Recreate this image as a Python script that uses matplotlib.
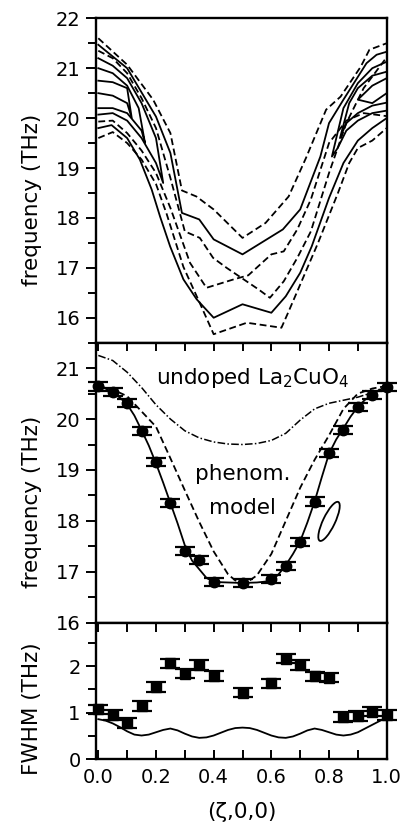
import matplotlib
matplotlib.use("Agg")
import matplotlib.pyplot as plt
import numpy as np
from matplotlib.patches import Ellipse
from matplotlib import transforms

plt.rcParams['font.family'] = ['DejaVu Sans']
plt.rcParams['mathtext.default'] = 'regular'

# ---------------- top panel: contour lines (zeta, frequency) ----------------
top_lines = [
    # (style, zeta list, freq list)
    ('--', [0, .10, .19, .25, .29, .34, .40, .50, .58, .66, .72, .79, .84, .91, .94, 1.0],
           [21.6, 21.07, 20.37, 19.7, 18.55, 18.43, 18.17, 17.6, 17.9, 18.43, 19.2, 20.17, 20.43, 21.03, 21.37, 21.5]),
    ('-',  [0, .10, .20, .25, .29, .35, .40, .50, .64, .70, .77, .80, .85, .93, .965, 1.0],
           [21.47, 21.0, 20.03, 19.3, 18.1, 17.97, 17.57, 17.27, 17.77, 18.17, 19.23, 19.9, 20.37, 21.1, 21.27, 21.33]),
    ('--', [0, .05, .10, .15, .20, .237, .295, .353, .40, .515, .635, .658, .693, .762, .831, .87, .90, .95, 1.0],
           [19.6, 19.72, 19.5, 19.17, 18.68, 18.08, 17.02, 16.28, 15.67, 15.9, 15.8, 16.1, 16.57, 17.5, 18.5, 19.1, 19.4, 19.55, 19.8]),
    ('-',  [0, .046, .10, .144, .185, .214, .249, .295, .341, .40, .50, .60, .65, .70, .74, .80, .85, .90, .95, 1.0],
           [19.8, 19.86, 19.6, 19.17, 18.57, 18.03, 17.43, 16.77, 16.37, 16.0, 16.27, 16.1, 16.43, 16.9, 17.43, 18.4, 19.1, 19.55, 19.8, 20.0]),
    ('--', [0, .05, .10, .15, .20, .25, .30, .352, .398, .445, .514, .555, .595, .643, .69, .737, .80, .86, .92, 1.0],
           [21.35, 21.2, 20.9, 20.4, 19.8, 18.8, 17.73, 17.6, 17.2, 17.0, 16.73, 16.57, 16.4, 16.73, 17.2, 17.73, 18.9, 19.9, 20.6, 21.22]),
    ('--', [0, .05, .10, .15, .20, .25, .318, .375, .47, .52, .60, .643, .69, .737, .80, .86, .92, 1.0],
           [19.93, 19.95, 19.7, 19.35, 18.9, 18.2, 17.1, 16.6, 16.77, 16.85, 17.27, 17.33, 17.77, 18.37, 19.5, 19.95, 20.1, 20.04]),
    # left inner loops
    ('-',  [0, .05, .10, .15, .20, .225, .20, .15, .10, .05, 0],
           [21.2, 21.05, 20.8, 20.3, 19.6, 18.7, 19.1, 19.6, 19.95, 20.1, 20.07]),
    ('-',  [0, .05, .10, .14, .162, .15, .10, .05, 0],
           [21.0, 20.9, 20.65, 20.2, 19.5, 19.75, 20.1, 20.2, 20.2]),
    ('-',  [0, .05, .10, .116, .10, .05, 0],
           [20.75, 20.72, 20.6, 20.0, 20.3, 20.45, 20.5]),
    # right inner loops
    ('-',  [1.0, .95, .90, .85, .81, .83, .86, .90, .95, 1.0],
           [21.13, 21.0, 20.7, 20.2, 19.23, 19.4, 19.75, 19.95, 20.1, 20.15]),
    ('-',  [1.0, .95, .90, .87, .838, .86, .90, .95, 1.0],
           [20.93, 20.85, 20.6, 20.3, 19.6, 19.9, 20.1, 20.25, 20.31]),
    ('-',  [1.0, .95, .90, .95, 1.0],
           [20.8, 20.65, 20.37, 20.3, 20.5]),
]

# ---------------- middle panel ----------------
zeta_pts = [0.0, 0.05, 0.10, 0.15, 0.20, 0.25, 0.30, 0.35, 0.40, 0.50,
            0.60, 0.65, 0.70, 0.75, 0.80, 0.85, 0.90, 0.95, 1.0]
freq_pts = [20.64, 20.53, 20.31, 19.77, 19.15, 18.35, 17.40, 17.23, 16.80, 16.78,
            16.86, 17.11, 17.58, 18.38, 19.33, 19.79, 20.23, 20.48, 20.63]
freq_err = [0.08] * len(zeta_pts)

fit_zeta = [0, .025, .05, .075, .1, .125, .15, .175, .2, .225, .25, .275, .3, .325, .35, .375, .4,
            .45, .5, .55, .6, .625, .65, .675, .7, .725, .75, .775, .8, .825, .85, .875, .9, .925, .95, .975, 1.0]
fit_freq = [20.65, 20.60, 20.52, 20.42, 20.29, 20.07, 19.78, 19.48, 19.13, 18.75, 18.35, 17.95, 17.52, 17.22,
            17.05, 16.88, 16.80, 16.79, 16.78, 16.79, 16.82, 16.95, 17.13, 17.35, 17.60, 17.97, 18.38, 18.86,
            19.32, 19.60, 19.82, 20.05, 20.24, 20.38, 20.48, 20.57, 20.65]

phen_zeta = [0, .05, .1, .15, .2, .25, .3, .35, .4, .45, .475, .5, .525, .55, .6, .65, .7, .75, .8, .85, .9, .95, 1.0]
phen_freq = [20.65, 20.58, 20.45, 20.15, 19.85, 19.23, 18.60, 17.98, 17.40, 16.95, 16.83, 16.79, 16.83,
             16.93, 17.35, 18.00, 18.65, 19.20, 19.68, 20.20, 20.50, 20.60, 20.65]

undoped_zeta = [0, .05, .1, .15, .2, .25, .3, .35, .4, .45, .5, .55, .6, .65, .7, .75, .8, .85, .9, .95, 1.0]
undoped_freq = [21.25, 21.15, 20.92, 20.62, 20.28, 20.00, 19.77, 19.63, 19.55, 19.51, 19.50, 19.52, 19.58,
                19.72, 19.98, 20.20, 20.31, 20.37, 20.43, 20.52, 20.65]

# ---------------- bottom panel ----------------
fwhm_zeta = [0.0, 0.05, 0.10, 0.15, 0.20, 0.25, 0.30, 0.35, 0.40, 0.50,
             0.60, 0.65, 0.70, 0.75, 0.80, 0.85, 0.90, 0.95, 1.0]
fwhm_vals = [1.07, 0.95, 0.78, 1.14, 1.55, 2.06, 1.84, 2.02, 1.79, 1.43,
             1.63, 2.16, 2.02, 1.78, 1.75, 0.91, 0.93, 1.02, 0.95]
fwhm_err = [0.1] * len(fwhm_zeta)

res_zeta = [0, .025, .05, .075, .1, .125, .15, .175, .2, .225, .25, .275, .3, .325, .35, .375, .4, .425, .45,
            .475, .5, .525, .55, .575, .6, .625, .65, .675, .7, .725, .75, .775, .8, .825, .85, .875, .9,
            .925, .95, .975, 1.0]
res_fwhm = [0.86, 0.83, 0.77, 0.69, 0.60, 0.53, 0.51, 0.53, 0.58, 0.63, 0.66, 0.62, 0.55, 0.49, 0.46, 0.47,
            0.51, 0.57, 0.63, 0.67, 0.68, 0.67, 0.63, 0.57, 0.51, 0.47, 0.46, 0.49, 0.55, 0.62, 0.66, 0.63,
            0.58, 0.53, 0.51, 0.53, 0.58, 0.66, 0.74, 0.82, 0.90]

# ---------------- figure ----------------
fig = plt.figure(figsize=(4.07, 8.27), dpi=100)
L, R = 96 / 407, 386.7 / 407
W = R - L
def fy(p):
    return 1 - p / 827

ax1 = fig.add_axes([L, fy(342.7), W, fy(18.3) - fy(342.7)])
ax2 = fig.add_axes([L, fy(622.7), W, fy(342.7) - fy(622.7)])
ax3 = fig.add_axes([L, fy(759.3), W, fy(622.7) - fy(759.3)])

TICK_FS = 14
LAB_FS = 15.5
TXT_FS = 15.5
lw = 1.3
DASH = (3.8, 2.0)

xlim = (-0.008, 1.0)
for ax in (ax1, ax2, ax3):
    ax.set_xlim(*xlim)
    for s in ax.spines.values():
        s.set_linewidth(1.7)
    ax.tick_params(axis='y', which='major', direction='out', length=7, width=1.4,
                   labelsize=TICK_FS, right=False, pad=4)
    ax.tick_params(axis='y', which='minor', direction='out', length=6, width=1.4, right=False)
    ax.set_xticks(np.arange(0, 1.01, 0.1))

# top
for style, zx, zy in top_lines:
    if style == '--':
        ax1.plot(zx, zy, color='black', lw=lw, dashes=DASH)
    else:
        ax1.plot(zx, zy, '-', color='black', lw=lw)
ax1.set_ylim(15.5, 22)
ax1.set_yticks([16, 17, 18, 19, 20, 21, 22])
ax1.set_yticks(np.arange(15.5, 22, 1.0), minor=True)
ax1.tick_params(axis='x', which='both', bottom=False, top=False, labelbottom=False)
ax1.set_ylabel('frequency (THz)', fontsize=LAB_FS)
ax1.yaxis.set_label_coords(-0.186, 0.44)

# middle
ax2.plot(fit_zeta, fit_freq, '-', color='black', lw=lw)
ax2.plot(phen_zeta, phen_freq, color='black', lw=lw, dashes=DASH)
ax2.plot(undoped_zeta, undoped_freq, color='black', lw=1.1, dashes=(5, 1.5, 1, 1.5))
ax2.errorbar(zeta_pts, freq_pts, yerr=freq_err, fmt='o', color='black', ms=7.5,
             capsize=7, elinewidth=1.4, capthick=1.6, clip_on=False, zorder=5)
ax2.set_ylim(16, 21.5)
ax2.set_yticks([16, 17, 18, 19, 20, 21])
ax2.set_yticks(np.arange(16.5, 21.5, 1.0), minor=True)
ax2.tick_params(axis='x', which='both', bottom=False, top=True, direction='in',
                length=6, width=1.4, labelbottom=False)
ax2.set_ylabel('frequency (THz)', fontsize=LAB_FS)
ax2.yaxis.set_label_coords(-0.186, 0.431)
ax2.text(0.2, 20.69, 'undoped La$_2$CuO$_4$', fontsize=TXT_FS, ha='left', va='baseline')
ax2.text(0.5, 18.80, 'phenom.', fontsize=TXT_FS, ha='center', va='baseline')
ax2.text(0.5, 18.14, 'model', fontsize=TXT_FS, ha='center', va='baseline')
ell = Ellipse((0, 0), width=12, height=43, angle=-25.5, fill=False, lw=1.3, color='black',
              transform=transforms.Affine2D() + transforms.ScaledTranslation(0.80, 17.99, ax2.transData))
ax2.add_artist(ell)

# bottom
ax3.plot(res_zeta, res_fwhm, '-', color='black', lw=lw)
ax3.errorbar(fwhm_zeta, fwhm_vals, yerr=fwhm_err, fmt='s', color='black', ms=7,
             capsize=7, elinewidth=1.4, capthick=1.6, clip_on=False, zorder=5)
ax3.set_ylim(0, 2.93)
ax3.set_yticks([0, 1, 2])
ax3.set_yticks([0.5, 1.5, 2.5], minor=True)
ax3.tick_params(axis='x', which='both', bottom=True, top=True, direction='in',
                length=6.5, width=1.4, labelsize=TICK_FS, pad=6)
ax3.set_xticklabels(['0.0', '', '0.2', '', '0.4', '', '0.6', '', '0.8', '', '1.0'])
ax3.set_ylabel('FWHM (THz)', fontsize=LAB_FS)
ax3.yaxis.set_label_coords(-0.186, 0.372)
ax3.set_xlabel('(ζ,0,0)', fontsize=LAB_FS)
ax3.xaxis.set_label_coords(0.5, -0.31)

fig.savefig('out.png', dpi=100)
